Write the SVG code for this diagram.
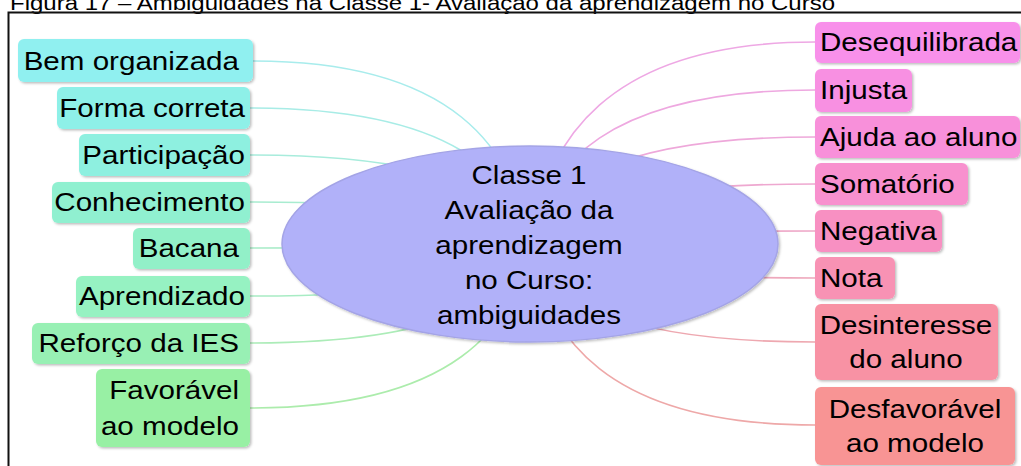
<svg xmlns="http://www.w3.org/2000/svg" width="1021" height="466" viewBox="0 0 1021 466">
<style>
.t{font-family:"Liberation Sans",Arial,sans-serif;font-size:25.5px;fill:#000}
.title{font-family:"Liberation Sans",Arial,sans-serif;font-size:21px;fill:#000}
.box{filter:url(#sh)}
.c{fill:none;stroke-width:1.6}
</style>
<defs>
<filter id="sh" x="-10%" y="-20%" width="130%" height="150%">
<feDropShadow dx="1.5" dy="1.5" stdDeviation="1" flood-color="#000" flood-opacity="0.25"/>
</filter>
</defs>
<rect width="1021" height="466" fill="#fff"/>
<text class="title" x="10" y="10" textLength="825" lengthAdjust="spacingAndGlyphs">Figura 17 – Ambiguidades na Classe 1- Avaliação da aprendizagem no Curso</text>
<rect x="8.5" y="12.5" width="1100" height="500" fill="none" stroke="#111" stroke-width="2"/>
<g id="connectors">
<path class="c" stroke="#a8ecec" d="M253 61 C455 61 515 150 530 244"/>
<path class="c" stroke="#a8ece6" d="M250 108 C455 108 515 176 530 244"/>
<path class="c" stroke="#a8ecdc" d="M250 155 C455 155 515 200 530 244"/>
<path class="c" stroke="#a8ecd0" d="M250 202 C455 202 515 223 530 244"/>
<path class="c" stroke="#a8ecc8" d="M250 248 C455 248 515 246 530 244"/>
<path class="c" stroke="#a8ecc4" d="M250 296 C455 296 515 270 530 244"/>
<path class="c" stroke="#acecb8" d="M250 343 C455 343 515 294 530 244"/>
<path class="c" stroke="#acecac" d="M250 408 C455 408 515 326 530 244"/>
<path class="c" stroke="#eea8e4" d="M815 42 C605 42 545 143 530 244"/>
<path class="c" stroke="#eea8e0" d="M815 90 C605 90 545 167 530 244"/>
<path class="c" stroke="#eea8da" d="M815 137 C605 137 545 190 530 244"/>
<path class="c" stroke="#eea8d0" d="M815 184 C605 184 545 214 530 244"/>
<path class="c" stroke="#eea8c8" d="M815 231 C605 231 545 238 530 244"/>
<path class="c" stroke="#eea8bc" d="M815 278 C605 278 545 261 530 244"/>
<path class="c" stroke="#eea8b0" d="M815 342 C605 342 545 293 530 244"/>
<path class="c" stroke="#eea8a8" d="M815 425 C605 425 545 335 530 244"/>
</g>
<g id="center">
<ellipse cx="530" cy="244" rx="248" ry="98" fill="#b1b1f9" stroke="#a4a4e6" stroke-width="1.5" filter="url(#sh)"/>
<text class="t" text-anchor="middle" transform="translate(529,0) scale(1.16,1)"><tspan x="0" y="184">Classe 1</tspan><tspan x="0" y="219">Avaliação da</tspan><tspan x="0" y="254">aprendizagem</tspan><tspan x="0" y="289">no Curso:</tspan><tspan x="0" y="324">ambiguidades</tspan></text>
</g>
<g id="n-bem"><rect class="box" x="18" y="39" width="235" height="43" rx="6" fill="#90f0f0"/><text class="t" text-anchor="end" transform="translate(239,70) scale(1.16,1)">Bem organizada</text></g>
<g id="n-forma"><rect class="box" x="57" y="87" width="193" height="42" rx="6" fill="#8ef0e8"/><text class="t" text-anchor="end" transform="translate(245,117) scale(1.16,1)">Forma correta</text></g>
<g id="n-part"><rect class="box" x="79" y="134" width="171" height="42" rx="6" fill="#8ef0e0"/><text class="t" text-anchor="end" transform="translate(245,164) scale(1.16,1)">Participação</text></g>
<g id="n-conh"><rect class="box" x="52" y="182" width="198" height="41" rx="6" fill="#90f0d0"/><text class="t" text-anchor="end" transform="translate(245,211) scale(1.16,1)">Conhecimento</text></g>
<g id="n-bac"><rect class="box" x="133" y="228" width="117" height="41" rx="6" fill="#92f0c8"/><text class="t" text-anchor="end" transform="translate(239,257) scale(1.16,1)">Bacana</text></g>
<g id="n-apr"><rect class="box" x="76" y="276" width="174" height="41" rx="6" fill="#96f2c2"/><text class="t" text-anchor="end" transform="translate(245,305) scale(1.16,1)">Aprendizado</text></g>
<g id="n-ref"><rect class="box" x="32" y="323" width="218" height="41" rx="6" fill="#98f0b4"/><text class="t" text-anchor="end" transform="translate(239,352) scale(1.16,1)">Reforço da IES</text></g>
<g id="n-fav"><rect class="box" x="96" y="369" width="154" height="78" rx="6" fill="#98f0a4"/><text class="t" text-anchor="end" transform="translate(239,0) scale(1.16,1)"><tspan x="0" y="399">Favorável</tspan><tspan x="0" y="435">ao modelo</tspan></text></g>
<g id="n-deseq"><rect class="box" x="815" y="22" width="205" height="41" rx="6" fill="#f890ea"/><text class="t" transform="translate(820,51) scale(1.16,1)">Desequilibrada</text></g>
<g id="n-inj"><rect class="box" x="815" y="69" width="97" height="43" rx="6" fill="#f890e2"/><text class="t" transform="translate(820,99) scale(1.16,1)">Injusta</text></g>
<g id="n-ajuda"><rect class="box" x="815" y="116" width="205" height="42" rx="6" fill="#f890da"/><text class="t" transform="translate(820,146) scale(1.16,1)">Ajuda ao aluno</text></g>
<g id="n-som"><rect class="box" x="815" y="163" width="153" height="42" rx="6" fill="#f890ce"/><text class="t" transform="translate(820,193) scale(1.16,1)">Somatório</text></g>
<g id="n-neg"><rect class="box" x="815" y="210" width="127" height="42" rx="6" fill="#f890c2"/><text class="t" transform="translate(820,240) scale(1.16,1)">Negativa</text></g>
<g id="n-nota"><rect class="box" x="815" y="257" width="80" height="42" rx="6" fill="#f892b4"/><text class="t" transform="translate(820,287) scale(1.16,1)">Nota</text></g>
<g id="n-desint"><rect class="box" x="815" y="304" width="183" height="76" rx="6" fill="#f892a4"/><text class="t" text-anchor="middle" transform="translate(906,0) scale(1.16,1)"><tspan x="0" y="334">Desinteresse</tspan><tspan x="0" y="368">do aluno</tspan></text></g>
<g id="n-desfav"><rect class="box" x="815" y="387" width="200" height="78" rx="6" fill="#f89494"/><text class="t" text-anchor="middle" transform="translate(915,0) scale(1.16,1)"><tspan x="0" y="418">Desfavorável</tspan><tspan x="0" y="452">ao modelo</tspan></text></g>
</svg>
